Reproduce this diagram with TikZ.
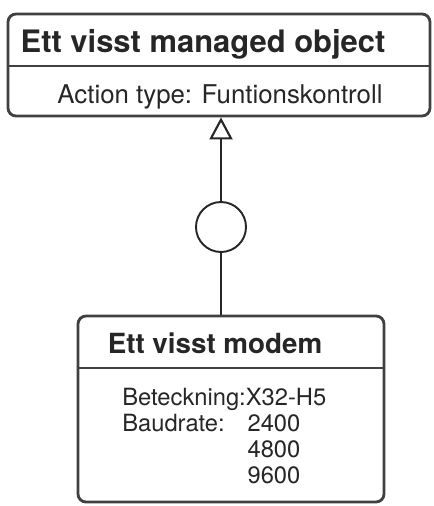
\documentclass[tikz,border=0pt]{standalone}
\usepackage{fontspec}
\setmainfont{TeX Gyre Heros}
\usetikzlibrary{arrows.meta}

\begin{document}
\begin{tikzpicture}[classbox/.style={rectangle, draw=black!75, line width=1.6pt, rounded corners=0.16cm, inner sep=0pt}, classname/.style={font=\fontsize{17.6}{20}\selectfont\bfseries, text=black!85}, attrtext/.style={font=\fontsize{14.7}{17}\selectfont, text=black!85}, divider/.style={draw=black!75, line width=1.6pt}, iface/.style={circle, draw=black!85, line width=1.1pt, minimum size=1cm, inner sep=0pt}, realize/.style={draw=black!85, line width=1.1pt, -{Triangle[open, length=0.44cm, width=0.46cm, line width=1.2pt]}}]
  \useasboundingbox (0,0) rectangle (8.68,-10.12);
  \node[classbox, minimum width=8.44cm, minimum height=2.04cm] (managed) at (4.38,-1.30) {};
  \node[classname] (managedname) at (4.06,-0.88) {Ett visst managed object};
  \draw[divider] (managed.west |- 0,-1.32) -- (managed.east |- 0,-1.32);
  \node[attrtext] (actiontype) at (4.40,-1.93) {Action type: Funtionskontroll};
  \node[iface] (ctrl) at (4.42,-4.54) {};
  \node[classbox, minimum width=6.12cm, minimum height=3.72cm] (modem) at (4.62,-8.18) {};
  \node[classname, font=\fontsize{15.8}{18}\selectfont\bfseries] (modemname) at (4.30,-6.86) {Ett visst modem};
  \draw[divider] (modem.west |- 0,-7.36) -- (modem.east |- 0,-7.36);
  \node[attrtext, font=\fontsize{13.5}{14.8}\selectfont, anchor=north west, inner sep=0pt] (modemattrs) at (2.44,-7.73) {\begin{tabular}{@{}l@{}l@{}}
    Beteckning:&X32-H5\\
    Baudrate:&\hspace{1pt}2400\\
    &\hspace{1pt}4800\\
    &\hspace{1pt}9600
  \end{tabular}};
  \draw[realize] (ctrl.north) -- (ctrl.north |- managed.south);
  \draw[draw=black!85, line width=1.1pt] (ctrl.south) -- (ctrl.south |- modem.north);
\end{tikzpicture}
\end{document}
